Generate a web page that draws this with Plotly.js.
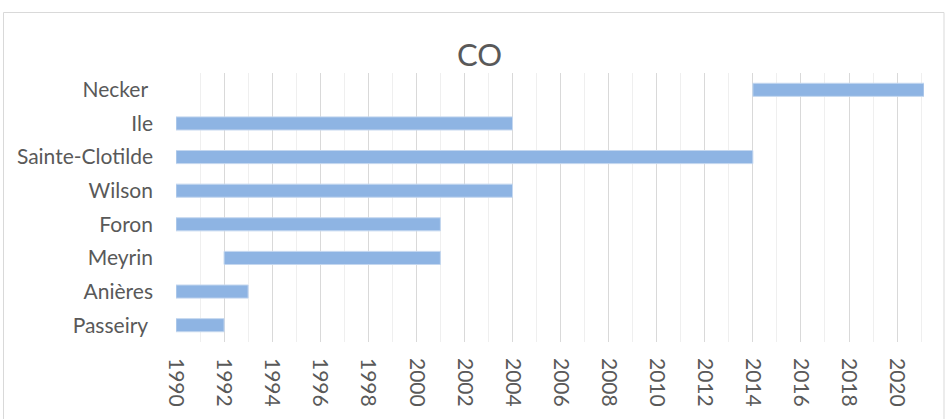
<!DOCTYPE html>
<html>
<head>
<meta charset="utf-8">
<script src="https://cdn.plot.ly/plotly-3.0.1.min.js"></script>
<style>
html,body{margin:0;padding:0;background:#fff;}
#chart{width:945px;height:419px;}
</style>
</head>
<body>
<div id="chart"></div>
<script>
// Stations, top to bottom
const stations = ["Necker\u00a0", "Ile", "Sainte-Clotilde", "Wilson", "Foron", "Meyrin", "Anières", "Passeiry\u00a0"];
const startYears = [2014, 1990, 1990, 1990, 1990, 1992, 1990, 1990];
const endYears   = [2021.12, 2004, 2014, 2004, 2001, 2001, 1993, 1992];
const tickYears = [1990,1992,1994,1996,1998,2000,2002,2004,2006,2008,2010,2012,2014,2016,2018,2020];

const durations = endYears.map((e, i) => e - startYears[i]);
const textColor = '#595959';
const fontFam = 'Lato, "Open Sans", sans-serif';

const trace = {
  type: 'bar',
  orientation: 'h',
  y: stations,
  x: durations,
  base: startYears,
  marker: {color: '#8EB4E3', line: {color: '#c4d7ef', width: 1}},
  hoverinfo: 'skip'
};

const layout = {
  width: 945, height: 419,
  margin: {l: 176, r: 21, t: 73, b: 77},
  paper_bgcolor: '#ffffff', plot_bgcolor: '#ffffff',
  showlegend: false,
  bargap: 0.61,
  font: {family: fontFam, color: textColor},
  title: {
    text: 'CO', xref: 'container', yref: 'container',
    x: 479.5/945, xanchor: 'center', y: 1 - 55/419, yanchor: 'middle',
    font: {family: fontFam, size: 31, color: textColor}
  },
  xaxis: {
    range: [1990, 2021.12],
    tickmode: 'array', tickvals: tickYears, ticktext: tickYears.map(String),
    tickangle: 90,
    tickfont: {family: fontFam, size: 21, color: textColor},
    ticks: '', ticklabelstandoff: 15,
    showgrid: true, gridcolor: '#d9d9d9', gridwidth: 1,
    minor: {dtick: 1, tick0: 1990, showgrid: true, gridcolor: '#efefef', gridwidth: 1, ticks: ''},
    zeroline: false, showline: false, fixedrange: true
  },
  yaxis: {
    type: 'category',
    autorange: 'reversed',
    tickfont: {family: fontFam, size: 21, color: textColor},
    ticks: '', ticklabelstandoff: 22,
    showgrid: false, zeroline: false, showline: false, fixedrange: true
  },
  shapes: [{
    type: 'rect', xref: 'paper', yref: 'paper',
    x0: (3.5 - 176) / 748, x1: (944 - 176) / 748,
    y0: (342 - 12.5) / 269, y1: (342 - 430) / 269,
    line: {color: '#d9d9d9', width: 1}, fillcolor: 'rgba(0,0,0,0)', layer: 'below'
  }]
};

Plotly.newPlot('chart', [trace], layout, {displayModeBar: false, staticPlot: true});
</script>
</body>
</html>
